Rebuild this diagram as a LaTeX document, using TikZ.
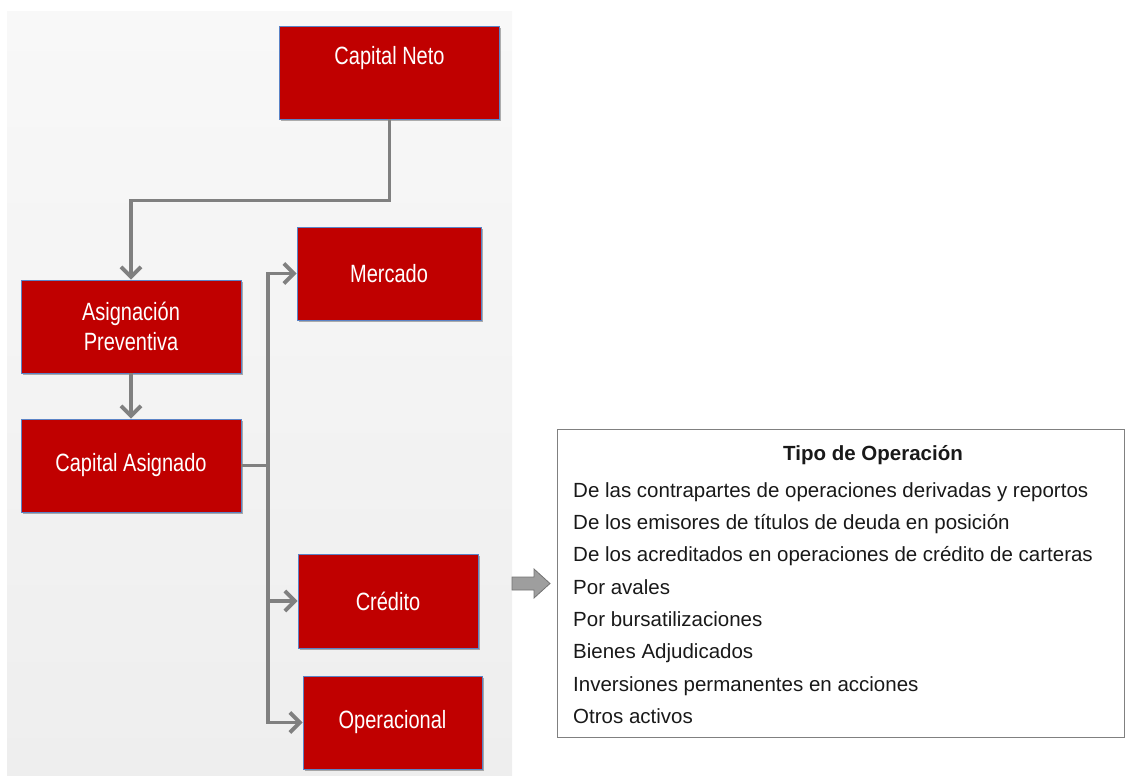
\documentclass[tikz,border=0pt]{standalone}
\usepackage{fontspec}
\setmainfont{Liberation Sans}
\usetikzlibrary{arrows.meta,shadows,calc}
\definecolor{boxred}{HTML}{C00000}
\definecolor{boxedge}{HTML}{5B83C6}
\definecolor{connc}{HTML}{808080}
\definecolor{panelt}{HTML}{F8F8F8}
\definecolor{panelb}{HTML}{EEEEEE}
\newcommand{\nar}[1]{\scalebox{0.8}[1]{#1}}
\tikzset{
  redbox/.style={fill=boxred, draw=boxedge, line width=0.9pt, inner sep=0pt,
    drop shadow={shadow xshift=1.5pt, shadow yshift=-2pt, opacity=0.3, fill=black},
    text=white, font=\fontsize{25}{30}\selectfont, align=center},
  connline/.style={draw=connc, line width=3.8pt},
  conn/.style={connline, -{Straight Barb[length=10pt,width=20pt,line width=3.8pt]}},
  item/.style={anchor=base west, inner sep=0pt, text=black!90, font=\fontsize{20.5}{24}\selectfont}
}
\begin{document}
\begin{tikzpicture}[x=1pt,y=-1pt]
\useasboundingbox (0,0) rectangle (1125,776);
\fill[top color=panelt, bottom color=panelb] (7,12) rectangle (512,776);

\node[redbox, minimum width=220pt, minimum height=93pt] (cn) at (389.5,72.5) {};
\node[text=white, font=\fontsize{25}{30}\selectfont, inner sep=0pt] (cnt) at (389.5,58) {\nar{Capital Neto}};
\node[redbox, minimum width=220pt, minimum height=93pt] (ap) at (131,326.5) {\nar{Asignación}\\\nar{Preventiva}};
\node[redbox, minimum width=220pt, minimum height=93pt] (ca) at (131,465.5) {\nar{Capital Asignado}};
\node[redbox, minimum width=184pt, minimum height=93pt] (me) at (389,273.5) {\nar{Mercado}};
\node[redbox, minimum width=180pt, minimum height=94pt] (cr) at (388,601) {\nar{Crédito}};
\node[redbox, minimum width=179pt, minimum height=93pt] (op) at (392.5,722.5) {\nar{Operacional}};

\draw[conn] (cn.south) -- ++(0,81) -| (ap.north);
\draw[conn] (ap.south) -- (ca.north);
\coordinate (j) at (268,465.5);
\draw[connline] (ca.east) -- (j);
\draw[conn] (j) |- (me.west);
\draw[conn] (j) |- (cr.west);
\draw[conn] (j) |- (op.west);

\draw[fill=black!38, draw=black!55, line width=0.8pt]
  (512,577) -- (534,577) -- (534,569) -- (550,583.5) -- (534,598) -- (534,590) -- (512,590) -- cycle;

\node[draw=black!50, line width=1pt, minimum width=567pt, minimum height=308pt, inner sep=0pt] (tbl) at (840.5,583) {};
\node[anchor=base, inner sep=0pt, font=\fontsize{20.5}{24}\selectfont\bfseries, text=black!90] (title) at (873,460) {Tipo de Operación};
\node[item] (t1) at (573,497) {De las contrapartes de operaciones derivadas y reportos};
\node[item] (t2) at (573,529.3) {De los emisores de títulos de deuda en posición};
\node[item] (t3) at (573,561.7) {De los acreditados en operaciones de crédito de carteras};
\node[item] (t4) at (573,594) {Por avales};
\node[item] (t5) at (573,626.3) {Por bursatilizaciones};
\node[item] (t6) at (573,658.7) {Bienes Adjudicados};
\node[item] (t7) at (573,691) {Inversiones permanentes en acciones};
\node[item] (t8) at (573,723.3) {Otros activos};
\end{tikzpicture}
\end{document}
